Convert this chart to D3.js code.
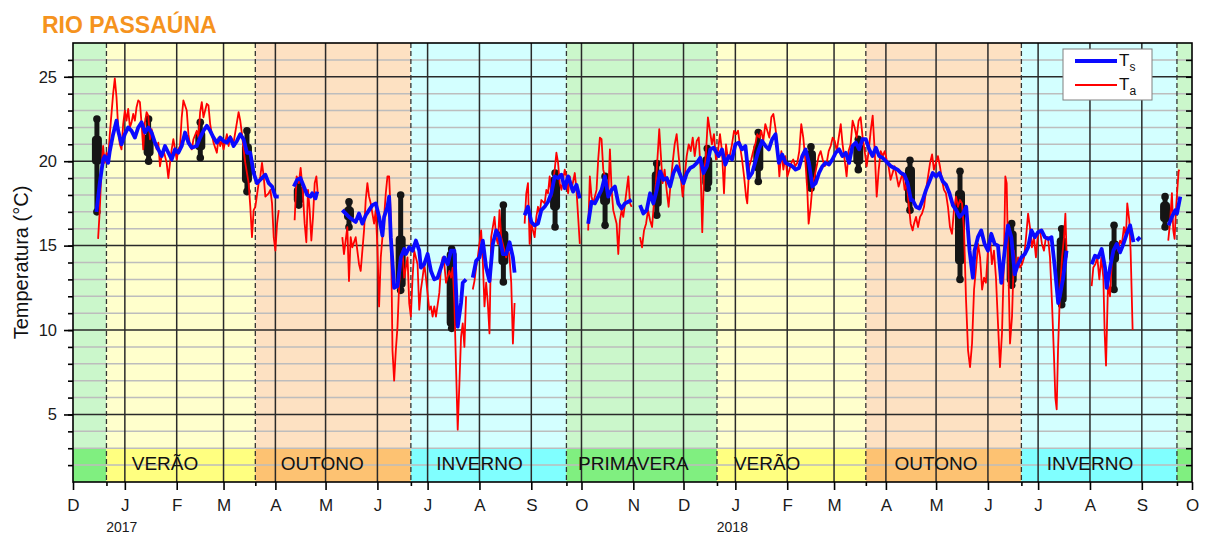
<!DOCTYPE html>
<html>
<head>
<meta charset="utf-8">
<script src="https://cdn.jsdelivr.net/npm/d3@7"></script>
<style>
  body { margin: 0; background: #fff; }
  svg { display: block; font-family: 'Liberation Sans', Arial, sans-serif; }
</style>
</head>
<body>
<div id="chart"></div>
<script>
// days counted from 1 Dec 2016
const startDay = '2016-12-01'
const endDay = '2018-10-01'

const seasons = [
  { name: '', kind: 'primavera', start: '2016-12-01', end: '2016-12-21', label: null },
  { name: 'VERÃO', kind: 'verao', start: '2016-12-21', end: '2017-03-20', label: '2017-01-25' },
  { name: 'OUTONO', kind: 'outono', start: '2017-03-20', end: '2017-06-21', label: '2017-04-29' },
  { name: 'INVERNO', kind: 'inverno', start: '2017-06-21', end: '2017-09-22', label: '2017-08-01' },
  { name: 'PRIMAVERA', kind: 'primavera', start: '2017-09-22', end: '2017-12-21', label: '2017-11-01' },
  { name: 'VERÃO', kind: 'verao', start: '2017-12-21', end: '2018-03-20', label: '2018-01-20' },
  { name: 'OUTONO', kind: 'outono', start: '2018-03-20', end: '2018-06-21', label: '2018-05-01' },
  { name: 'INVERNO', kind: 'inverno', start: '2018-06-21', end: '2018-09-22', label: '2018-08-01' },
  { name: '', kind: 'primavera', start: '2018-09-22', end: '2018-10-01', label: null }
]

const monthLetters = ['J', 'F', 'M', 'A', 'M', 'J', 'J', 'A', 'S', 'O', 'N', 'D']
const yearLabels = ['2017-01-01', '2018-01-01']
const yMajorTicks = [5, 10, 15, 20, 25]

// Ts - water temperature, [day, °C], null = gap
const tsData = [
  [14, 17.0], [16, 18.7], [18, 20.1], [19, 20.3], [21, 19.9], [22, 20.6], [24, 21.6], [26, 22.4], [27, 21.8], [29, 21.0],
  [31, 21.6], [33, 22.0], [35, 21.8], [37, 21.4], [39, 22.0], [41, 22.3], [43, 21.7], [45, 22.0], [47, 21.7], [49, 21.1],
  [51, 20.7], [53, 20.3], [55, 20.9], [57, 20.5], [59, 20.1], [61, 20.7], [63, 20.5], [65, 20.9], [67, 21.7], [69, 21.1],
  [71, 20.8], [74, 20.9], [76, 21.4], [78, 21.8], [80, 22.1], [82, 21.8], [84, 21.4], [86, 21.1], [88, 21.4], [90, 21.2],
  [92, 21.1], [94, 21.4], [96, 20.9], [98, 21.2], [100, 21.6], [102, 21.3], [104, 20.5], [106, 20.5], [108, 19.3], [110, 18.7],
  [112, 18.9], [115, 19.2], [117, 18.7], [119, 18.5], [121, 17.9], [123, 17.9],
  [124, null],
  [132, 18.5], [134, 18.9], [136, 19.0], [138, 18.5], [140, 18.0], [142, 17.9], [143, 18.1], [145, 17.8], [146, 18.2],
  [147, null],
  [161, 17.1], [165, 16.7], [169, 16.4], [171, 16.9], [173, 16.3], [175, 16.8], [177, 17.1], [179, 17.4], [181, 17.5], [183, 16.7],
  [185, 15.6], [186, 16.7], [188, 17.3], [189, 17.9], [190, 15.5], [192, 12.5], [194, 12.6], [196, 14.3], [198, 14.8], [199, 14.5],
  [201, 14.9], [203, 14.7], [205, 15.3], [207, 14.7], [208, 13.7], [210, 13.9], [212, 14.5], [214, 13.5], [216, 13.0], [218, 13.1],
  [220, 13.7], [222, 14.3], [224, 13.9], [226, 14.7], [228, 14.7], [229, 12.4], [230, 10.2], [232, 11.6], [233, 12.8], [234, 12.9], [235, 13.0],
  [236, null],
  [239, 13.1], [241, 14.1], [243, 14.3], [245, 15.3], [247, 13.7], [249, 12.9], [251, 15.1], [253, 15.9], [255, 15.5], [257, 14.5],
  [259, 14.5], [261, 15.2], [263, 14.3], [264, 13.4],
  [265, null],
  [270, 16.8], [272, 17.3], [274, 16.4], [276, 16.2], [278, 16.3], [280, 17.1], [282, 17.3], [284, 17.6], [286, 18.1], [288, 19.1],
  [290, 19.0], [292, 19.2], [294, 18.4], [296, 19.1], [297, 18.8], [299, 18.2], [301, 18.6], [303, 17.8],
  [304, null],
  [308, 16.3], [310, 17.6], [312, 17.5], [314, 17.9], [316, 18.3], [318, 19.1], [320, 17.9], [322, 18.3], [324, 18.5], [326, 17.5],
  [328, 17.2], [330, 17.5], [332, 17.6], [334, 17.7],
  [335, null],
  [339, 17.4], [341, 16.9], [343, 17.1], [345, 18.1], [347, 17.5], [349, 18.3], [351, 19.4], [353, 18.9], [355, 19.0], [357, 18.5],
  [359, 19.3], [361, 19.7], [363, 19.2], [365, 18.7], [367, 19.3], [369, 19.6], [371, 19.7], [373, 19.9], [375, 20.2], [377, 19.3],
  [379, 19.7], [381, 20.7], [383, 20.8], [386, 20.3], [388, 20.7], [390, 19.8], [392, 20.3], [394, 20.1], [396, 21.0], [398, 21.1],
  [400, 20.7], [402, 20.9], [404, 19.0], [406, 19.3], [408, 20.0], [410, 20.7], [412, 21.2], [414, 20.9], [416, 20.7], [418, 21.3],
  [420, 21.6], [422, 19.9], [424, 20.4], [426, 19.9], [428, 19.8], [430, 19.7], [432, 19.5], [434, 19.6], [436, 20.3], [438, 20.7],
  [440, 19.9], [442, 18.5], [444, 18.7], [446, 19.3], [448, 19.7], [450, 19.9], [452, 19.8], [454, 20.1], [456, 20.5], [458, 20.7],
  [460, 20.3], [462, 20.5], [464, 19.9], [466, 20.9], [468, 21.1], [470, 20.7], [472, 21.3], [474, 21.3], [476, 20.7], [478, 20.3],
  [480, 20.8], [482, 20.3], [484, 20.2], [485, 20.1], [487, 19.9], [489, 19.7], [491, 19.6], [493, 19.5], [495, 19.3], [497, 19.2],
  [499, 18.7], [501, 17.7], [502, 17.7], [504, 17.3], [506, 17.2], [508, 17.7], [510, 18.3], [512, 18.8], [514, 19.3], [516, 19.1],
  [518, 19.3], [520, 18.8], [522, 18.6], [524, 18.1], [526, 17.4], [528, 17.1], [530, 16.7], [532, 16.9], [534, 17.3], [536, 14.7],
  [538, 13.1], [539, 14.7], [541, 15.5], [543, 15.9], [545, 15.1], [547, 14.7], [549, 15.7], [551, 15.1], [553, 15.0], [555, 12.8],
  [557, 14.7], [559, 16.2], [561, 15.5], [563, 13.3], [565, 13.9], [567, 14.3], [569, 14.5], [571, 14.9], [573, 15.9], [575, 15.5],
  [577, 15.8], [579, 15.9], [581, 15.5], [583, 15.4], [585, 15.5], [587, 13.7], [589, 11.6], [590, 12.0], [592, 13.1], [594, 14.7],
  [595, null],
  [609, 13.9], [611, 14.4], [613, 14.3], [615, 14.8], [617, 13.7], [618, 12.5], [620, 13.7], [622, 14.7], [624, 15.1], [626, 14.6],
  [628, 15.1], [630, 15.7], [632, 16.2], [634, 15.2],
  [635, null],
  [636, 15.3], [638, 15.5],
  [639, null],
  [655, 16.2], [657, 16.7], [659, 17.1], [660, 16.9], [662, 17.9]
]

// Ta - air temperature, [day, °C], null = gap
const taData = [
  [15, 15.4], [16, 17.1], [17, 19.5], [18, 20.9], [19, 19.9], [20, 20.5], [21, 20.1], [22, 21.6], [23, 22.8], [24, 24.0],
  [25, 24.9], [26, 23.8], [27, 22.0], [28, 21.0], [29, 20.7], [30, 22.2], [31, 23.0], [32, 22.4], [33, 23.1], [34, 22.0],
  [35, 22.3], [36, 22.8], [37, 22.4], [38, 23.2], [39, 23.6], [40, 23.5], [41, 22.2], [42, 20.7], [43, 22.3], [44, 22.9],
  [45, 22.7], [46, 21.3], [47, 21.9], [48, 21.4], [50, 20.7], [51, 21.1], [52, 19.7], [53, 20.3], [54, 20.7], [56, 19.9],
  [57, 19.0], [58, 19.9], [59, 20.7], [60, 21.3], [62, 20.1], [63, 20.7], [64, 20.9], [65, 22.6], [66, 23.6], [68, 23.0],
  [69, 21.6], [70, 20.9], [71, 20.7], [72, 21.3], [74, 21.8], [75, 21.4], [76, 22.9], [77, 23.5], [78, 22.6], [80, 23.4],
  [81, 23.3], [82, 22.2], [83, 21.6], [84, 21.1], [86, 20.5], [87, 21.4], [88, 20.9], [89, 21.3], [90, 20.7], [92, 21.6],
  [93, 20.9], [94, 21.5], [95, 21.3], [96, 21.1], [98, 22.3], [99, 22.9], [100, 22.4], [101, 21.6], [102, 20.7], [103, 19.9],
  [105, 18.7], [106, 17.3], [107, 15.5], [108, 17.1], [109, 17.3], [111, 18.7], [112, 19.1], [113, 19.9], [114, 19.1], [115, 17.9],
  [117, 18.1], [118, 18.3], [119, 17.5], [120, 15.5], [121, 14.7], [122, 16.3], [123, 17.1],
  [124, null],
  [132.5, 16.5], [133.7, 19.1], [135, 18.7], [136.1, 19.6], [137.3, 18.3], [138.5, 16.3], [139.5, 15.2], [140.5, 18.3], [141.5, 17.1],
  [142.5, 15.3], [143.5, 16.7], [144.5, 18.7], [145.5, 19.1], [146.3, 18.1],
  [147, null],
  [161, 15.5], [162, 14.5], [164, 16.1], [165, 12.9], [166, 15.5], [167, 14.9], [169, 15.5], [171, 13.9], [172, 13.5], [174, 15.9],
  [175, 17.7], [176, 18.7], [177, 17.9], [178, 17.5], [180, 16.3], [181, 17.1], [182, 14.9], [183, 11.4], [184, 14.3], [186, 16.7],
  [187, 18.1], [188, 19.1], [189, 19.1], [190, 16.7], [191, 8.8], [192, 7.0], [193, 8.8], [194, 10.2], [195, 12.7], [196, 13.9],
  [197, 14.7], [198, 13.1], [200, 14.3], [201, 11.6], [202, 10.8], [203, 13.1], [204, 14.7], [206, 13.9], [207, 11.2], [208, 12.4],
  [209, 13.1], [210, 13.9], [211, 13.1], [213, 11.2], [214, 11.4], [215, 10.8], [216, 11.4], [217, 10.8], [219, 12.2], [220, 13.7],
  [221, 14.3], [222, 13.9], [223, 12.8], [225, 13.5], [226, 13.1], [227, 13.7], [228, 11.6], [229, 7.8], [230, 4.1], [231, 6.8],
  [232, 9.6], [233, 10.4], [234, 9.0], [235, 12.0],
  [236, null],
  [239, 12.4], [240, 12.9], [241, 13.7], [242, 14.3], [244, 15.9], [245, 14.1], [246, 11.4], [247, 12.8], [248, 11.6], [249, 9.8],
  [250, 15.5], [252, 16.7], [253, 15.5], [254, 15.1], [255, 17.1], [256, 15.5], [258, 14.7], [259, 14.3], [260, 14.9], [261, 14.3],
  [262, 12.8], [263, 9.2], [264, 11.6],
  [265, null],
  [270, 16.3], [271, 18.1], [272, 18.7], [273, 15.1], [274, 16.3], [276, 15.5], [277, 16.7], [278, 17.3], [279, 16.9], [280, 17.7],
  [282, 17.5], [283, 18.3], [284, 18.1], [285, 19.1], [286, 17.9], [288, 19.5], [289, 20.5], [290, 19.9], [291, 18.7], [292, 18.3],
  [294, 19.5], [295, 19.1], [296, 18.1], [297, 19.1], [298, 18.3], [300, 19.3], [301, 18.3], [302, 16.7], [303, 15.1],
  [304, null],
  [308, 15.9], [309, 19.1], [310, 17.9], [311, 17.5], [313, 18.3], [314, 20.1], [315, 21.4], [316, 21.3], [317, 19.5], [319, 18.7],
  [320, 17.9], [321, 20.7], [322, 18.3], [323, 17.1], [325, 16.3], [326, 14.5], [327, 16.5], [328, 17.1], [329, 16.7], [331, 18.3],
  [332, 19.1], [333, 17.5], [334, 17.3],
  [335, null],
  [339, 15.5], [340.2, 14.9], [341.4, 15.9], [342.6, 16.3], [343.8, 17.1], [345, 16.5], [346.2, 16.1], [347.3, 17.5], [348.5, 18.7], [349.7, 20.6],
  [350.5, 21.9], [351.3, 20.6], [352.5, 18.7], [353.7, 19.5], [354.9, 18.3], [356.1, 17.3], [357.3, 18.7], [358.5, 19.9], [359.7, 21.0], [360.9, 21.6],
  [362.1, 20.3], [363.3, 19.1], [364.5, 17.9], [365.7, 19.1], [366.9, 20.3], [368.1, 21.0], [369.3, 20.6], [370.5, 21.4], [371.7, 20.3], [372.9, 21.2],
  [374.1, 21.4], [375.2, 19.5], [376.2, 15.8], [377.2, 19.1], [378.4, 20.4], [379.6, 22.6], [380.8, 21.8], [382, 21.0], [383.2, 21.6], [384.4, 20.1],
  [385.6, 20.6], [386.8, 21.6], [388, 20.6], [389.2, 18.1], [390.4, 21.0], [391.6, 20.1], [392.8, 20.4], [394, 21.0], [395.2, 21.8], [396.4, 21.6],
  [397.6, 21.8], [398.8, 20.9], [400, 20.1], [401.2, 19.1], [402.4, 17.9], [403.1, 17.5], [404.3, 19.7], [405.5, 20.1], [406.7, 20.6], [407.9, 21.0],
  [409.1, 21.6], [410.3, 21.4], [411.5, 21.8], [412.7, 21.2], [413.9, 22.2], [415.1, 21.8], [416.3, 21.4], [417.5, 22.6], [418.7, 22.8], [419.9, 22.0],
  [421.1, 21.0], [422.3, 19.1], [423.5, 20.6], [424.7, 19.5], [425.9, 20.3], [427.1, 19.1], [428.3, 19.5], [429.5, 19.9], [430.6, 20.1], [431.8, 19.7],
  [433, 19.9], [434.2, 20.6], [435.4, 22.2], [436.6, 21.4], [437.8, 20.1], [439, 18.3], [439.8, 16.3], [441, 17.3], [442.2, 18.7], [443.4, 19.1],
  [444.6, 19.7], [445.8, 20.3], [447, 20.6], [448.2, 20.1], [449.4, 19.7], [450.6, 19.9], [451.8, 20.6], [453, 20.9], [454.2, 21.4], [455.4, 21.2],
  [456.6, 20.6], [457.8, 21.4], [459, 22.2], [460.1, 21.0], [461.3, 20.1], [462.5, 19.1], [463.7, 20.6], [464.9, 21.0], [466.1, 22.4], [467.3, 22.0],
  [468.5, 21.4], [469.7, 22.4], [470.9, 22.6], [472.1, 21.4], [473.3, 20.6], [474.5, 19.7], [475.7, 20.6], [476.9, 21.8], [478.1, 22.7], [479.3, 20.6],
  [480.5, 17.9], [481.7, 19.5], [482.9, 20.6], [484.1, 20.3], [485.3, 20.6], [486.4, 20.1], [487.6, 19.7], [488.8, 18.9], [490, 19.3], [491.2, 19.7],
  [492.4, 19.1], [493.6, 18.5], [494.8, 18.9], [496, 19.3], [497.2, 18.3], [498.4, 18.7], [499.6, 17.5], [500.8, 16.3], [502, 15.9], [502.8, 16.3],
  [504, 16.7], [505.2, 16.1], [506.4, 16.7], [507.6, 16.9], [508.8, 17.3], [510, 18.3], [511.2, 19.1], [512.4, 19.9], [513.6, 20.4], [514.7, 19.5],
  [515.9, 19.9], [517.1, 20.3], [518.3, 19.7], [519.5, 18.9], [520.7, 18.3], [521.9, 18.1], [523.1, 17.3], [524.3, 16.1], [525.5, 15.7], [526.7, 17.1],
  [527.9, 17.9], [529.1, 17.3], [530.3, 17.7], [531.5, 17.5], [532.7, 15.9], [533.9, 11.8], [535.1, 8.8], [536.3, 7.8], [537.5, 9.2], [538.7, 12.4],
  [539.9, 13.7], [541.1, 15.1], [542.3, 14.3], [543.5, 12.4], [544.7, 13.1], [545.8, 12.8], [547, 14.7], [548.2, 15.5], [549.4, 13.9], [550.6, 14.7],
  [551.8, 13.1], [553, 10.4], [554.2, 7.8], [555.4, 9.8], [556.6, 14.3], [557.4, 19.1], [558.2, 18.7], [559, 14.7], [560.2, 9.2], [561.4, 10.8],
  [562.6, 14.7], [563.8, 13.5], [565, 14.3], [566.2, 13.7], [567.4, 13.9], [568.6, 14.3], [569.8, 15.5], [571, 16.9], [572.1, 16.1], [573.3, 14.9],
  [574.5, 15.5], [575.7, 14.3], [576.9, 15.7], [578.1, 15.9], [579.3, 15.1], [580.5, 14.7], [581.7, 15.5], [582.9, 15.5], [584.1, 14.3], [585.3, 11.6],
  [586.5, 8.4], [587.3, 6.0], [588.1, 5.3], [588.9, 8.8], [590.1, 12.4], [591.3, 14.3], [592.5, 15.5], [593.3, 16.9], [594.1, 14.3],
  [595, null],
  [609, 12.6], [610, 13.7], [611.2, 13.9], [612.4, 14.3], [613.6, 13.0], [614.8, 14.3], [616, 13.1], [616.8, 9.8], [617.6, 7.9], [618.8, 12.8],
  [620, 12.0], [621.2, 14.3], [622.4, 14.7], [623.6, 15.1], [624.8, 14.7], [626, 15.3], [627.1, 15.1], [628.3, 16.1], [629.5, 15.5], [630.3, 17.5],
  [631.5, 16.5], [632.3, 14.7], [633.5, 10.0],
  [635, null],
  [654.8, 15.3], [655.8, 16.3], [657, 18.1], [657.8, 15.9], [658.6, 15.4], [659.4, 17.1], [660.2, 18.3], [661, 19.4], [661.4, 19.5]
]

// black bars: min, box low, box high, max
const bars = [
  { day: 14.3, lo: 17.0, q1: 19.8, q3: 21.5, hi: 22.5 },
  { day: 45.2, lo: 20.0, q1: 20.3, q3: 21.6, hi: 22.5 },
  { day: 76.1, lo: 20.2, q1: 20.65, q3: 21.8, hi: 22.3 },
  { day: 104, lo: 18.2, q1: 18.7, q3: 21.05, hi: 21.8 },
  { day: 135, lo: 17.4, q1: 17.5, q3: 18.5, hi: 18.7 },
  { day: 165, lo: 16.1, q1: 16.5, q3: 17.3, hi: 17.6 },
  { day: 195.9, lo: 12.35, q1: 12.5, q3: 15.6, hi: 18.0 },
  { day: 226.4, lo: 10.1, q1: 10.2, q3: 14.7, hi: 14.8 },
  { day: 257.3, lo: 12.85, q1: 13.85, q3: 15.9, hi: 17.4 },
  { day: 288.2, lo: 16.1, q1: 17.1, q3: 19.1, hi: 19.3 },
  { day: 318.1, lo: 16.2, q1: 17.4, q3: 18.3, hi: 19.1 },
  { day: 349, lo: 16.8, q1: 17.3, q3: 19.4, hi: 19.86 },
  { day: 379.2, lo: 18.4, q1: 18.5, q3: 20.3, hi: 20.75 },
  { day: 409.7, lo: 18.8, q1: 19.4, q3: 21.05, hi: 21.7 },
  { day: 441.2, lo: 18.4, q1: 18.5, q3: 20.65, hi: 20.85 },
  { day: 469.5, lo: 19.5, q1: 19.8, q3: 21.05, hi: 21.3 },
  { day: 500.4, lo: 17.1, q1: 17.5, q3: 19.7, hi: 20.06 },
  { day: 530.3, lo: 13.0, q1: 13.9, q3: 18.3, hi: 19.4 },
  { day: 561.2, lo: 12.65, q1: 12.75, q3: 15.9, hi: 16.3 },
  { day: 591.1, lo: 11.5, q1: 11.6, q3: 15.5, hi: 16.0 },
  { day: 622.4, lo: 12.4, q1: 14.0, q3: 15.3, hi: 16.2 },
  { day: 652.9, lo: 16.1, q1: 16.4, q3: 17.6, hi: 17.9 }
]

const lightFill = { primavera: '#cbf7cb', verao: '#ffffcc', outono: '#fde1c2', inverno: '#d3ffff' }
const darkFill = { primavera: '#80ef80', verao: '#ffff80', outono: '#fdc272', inverno: '#80ffff' }

const W = 1206
const H = 538
const plot = { left: 73, right: 1192, top: 43, bottom: 482 }

const parse = d3.utcParse('%Y-%m-%d')
const t0 = parse(startDay)
const dayToDate = d => new Date(t0.getTime() + d * 864e5)

const x = d3.scaleUtc().domain([t0, parse(endDay)]).range([plot.left, plot.right])
const y = d3.scaleLinear().domain([1, 27]).range([plot.bottom, plot.top])

const svg = d3
  .select('#chart')
  .append('svg')
  .attr('width', W)
  .attr('height', H)

// season backgrounds
svg
  .selectAll('.season-bg')
  .data(seasons)
  .enter()
  .append('rect')
  .attr('x', d => x(parse(d.start)))
  .attr('width', d => x(parse(d.end)) - x(parse(d.start)))
  .attr('y', plot.top)
  .attr('height', plot.bottom - plot.top)
  .attr('fill', d => lightFill[d.kind])

svg
  .selectAll('.season-band')
  .data(seasons)
  .enter()
  .append('rect')
  .attr('x', d => x(parse(d.start)))
  .attr('width', d => x(parse(d.end)) - x(parse(d.start)))
  .attr('y', y(3))
  .attr('height', y(1) - y(3))
  .attr('fill', d => darkFill[d.kind])

// horizontal grid
const minorVals = d3.range(2, 27).filter(v => v % 5 !== 0)
svg
  .selectAll('.minor-grid')
  .data(minorVals)
  .enter()
  .append('line')
  .attr('x1', plot.left)
  .attr('x2', plot.right)
  .attr('y1', d => y(d))
  .attr('y2', d => y(d))
  .attr('stroke', '#bdbdbd')
  .attr('stroke-width', 1.5)

svg
  .selectAll('.major-grid')
  .data(yMajorTicks)
  .enter()
  .append('line')
  .attr('x1', plot.left)
  .attr('x2', plot.right)
  .attr('y1', d => y(d))
  .attr('y2', d => y(d))
  .attr('stroke', '#2a2a2a')
  .attr('stroke-width', 1.5)

// month grid
const months = d3.utcMonth.range(d3.utcMonth.offset(t0, 1), parse(endDay))
svg
  .selectAll('.month-grid')
  .data(months)
  .enter()
  .append('line')
  .attr('x1', d => x(d))
  .attr('x2', d => x(d))
  .attr('y1', plot.top)
  .attr('y2', plot.bottom)
  .attr('stroke', '#2a2a2a')
  .attr('stroke-width', 1.5)

// season boundaries
const boundaries = seasons.slice(1).map(d => parse(d.start))
svg
  .selectAll('.season-line')
  .data(boundaries)
  .enter()
  .append('line')
  .attr('x1', d => x(d))
  .attr('x2', d => x(d))
  .attr('y1', plot.top)
  .attr('y2', plot.bottom)
  .attr('stroke', '#333')
  .attr('stroke-width', 1.3)
  .attr('stroke-dasharray', '5,3')

// season labels
svg
  .selectAll('.season-label')
  .data(seasons.filter(d => d.label))
  .enter()
  .append('text')
  .attr('x', d => x(parse(d.label)))
  .attr('y', plot.bottom - 12)
  .attr('text-anchor', 'middle')
  .attr('font-size', 19)
  .attr('fill', '#111')
  .text(d => d.name)

// bars
const barG = svg.append('g')
barG
  .selectAll('.whisker')
  .data(bars)
  .enter()
  .append('line')
  .attr('x1', d => x(dayToDate(d.day)))
  .attr('x2', d => x(dayToDate(d.day)))
  .attr('y1', d => y(d.hi))
  .attr('y2', d => y(d.lo))
  .attr('stroke', '#151515')
  .attr('stroke-width', 5)
  .attr('stroke-linecap', 'round')

barG
  .selectAll('.box')
  .data(bars)
  .enter()
  .append('rect')
  .attr('x', d => x(dayToDate(d.day)) - 5)
  .attr('width', 10)
  .attr('y', d => y(d.q3))
  .attr('height', d => y(d.q1) - y(d.q3))
  .attr('rx', 4)
  .attr('fill', '#151515')

const ends = bars.flatMap(d => [
  { day: d.day, v: d.lo },
  { day: d.day, v: d.hi }
])
barG
  .selectAll('.cap')
  .data(ends)
  .enter()
  .append('circle')
  .attr('cx', d => x(dayToDate(d.day)))
  .attr('cy', d => y(d.v))
  .attr('r', 3.8)
  .attr('fill', '#151515')

// lines
const line = d3
  .line()
  .defined(d => d[1] !== null)
  .x(d => x(dayToDate(d[0])))
  .y(d => y(d[1]))

svg
  .append('path')
  .datum(taData)
  .attr('d', line)
  .attr('fill', 'none')
  .attr('stroke', '#ff0000')
  .attr('stroke-width', 1.8)
  .attr('stroke-linejoin', 'round')

svg
  .append('path')
  .datum(tsData)
  .attr('d', line)
  .attr('fill', 'none')
  .attr('stroke', '#0a0aff')
  .attr('stroke-width', 3.8)
  .attr('stroke-linejoin', 'round')

// frame
svg
  .append('rect')
  .attr('x', plot.left)
  .attr('y', plot.top)
  .attr('width', plot.right - plot.left)
  .attr('height', plot.bottom - plot.top)
  .attr('fill', 'none')
  .attr('stroke', '#000')
  .attr('stroke-width', 1.6)

// axes
const allY = d3.range(2, 27)
const leftMinor = d3.axisLeft(y).tickValues(allY).tickSize(5).tickFormat('')
const leftMajor = d3.axisLeft(y).tickValues(yMajorTicks).tickSize(9).tickPadding(7)
const rightTicks = d3.axisLeft(y).tickValues(allY).tickSize(6).tickFormat('')

svg.append('g').attr('class', 'axis').attr('transform', `translate(${plot.left},0)`).call(leftMinor)
svg.append('g').attr('class', 'axis y-labels').attr('transform', `translate(${plot.left},0)`).call(leftMajor)
svg.append('g').attr('class', 'axis').attr('transform', `translate(${plot.right},0)`).call(rightTicks)

const xAxis = d3
  .axisBottom(x)
  .tickValues(d3.utcMonth.range(t0, d3.utcDay.offset(parse(endDay), 1)))
  .tickSize(8)
  .tickPadding(9)
  .tickFormat(d => monthLetters[d.getUTCMonth()])
svg.append('g').attr('class', 'axis x-labels').attr('transform', `translate(0,${plot.bottom})`).call(xAxis)

const xMinor = d3.axisBottom(x).tickValues(boundaries).tickSize(4).tickFormat('')
svg.append('g').attr('class', 'axis').attr('transform', `translate(0,${plot.bottom})`).call(xMinor)

svg.selectAll('.axis .domain').remove()
svg.selectAll('.axis line').attr('stroke', '#000').attr('stroke-width', 1.6)
svg.selectAll('.axis text').attr('font-family', "'Liberation Sans', Arial, sans-serif").attr('fill', '#1a1a1a')
svg.selectAll('.x-labels text').attr('font-size', 17)
svg.selectAll('.y-labels text').attr('font-size', 16.5)

// year labels
svg
  .selectAll('.year')
  .data(yearLabels)
  .enter()
  .append('text')
  .attr('x', d => x(parse(d)) - 3)
  .attr('y', 532)
  .attr('text-anchor', 'middle')
  .attr('font-size', 14)
  .attr('fill', '#1a1a1a')
  .text(d => d.slice(0, 4))

// y title
svg
  .append('text')
  .attr('transform', `translate(28,${(plot.top + plot.bottom) / 2}) rotate(-90)`)
  .attr('text-anchor', 'middle')
  .attr('font-size', 20)
  .attr('fill', '#111')
  .text('Temperatura (°C)')

// title
svg
  .append('text')
  .attr('x', 42)
  .attr('y', 33)
  .attr('font-size', 23)
  .attr('font-weight', 'bold')
  .attr('fill', '#f5931e')
  .text('RIO PASSAÚNA')

// legend
const legend = svg.append('g').attr('transform', 'translate(1063,49)')
legend
  .append('rect')
  .attr('width', 89)
  .attr('height', 51)
  .attr('fill', '#fff')
  .attr('stroke', '#808080')
  .attr('stroke-width', 1)

const legendItems = [
  { sym: 'T', sub: 's', color: '#0a0aff', width: 3.8 },
  { sym: 'T', sub: 'a', color: '#ff0000', width: 1.8 }
]
const item = legend
  .selectAll('.item')
  .data(legendItems)
  .enter()
  .append('g')
  .attr('transform', (d, i) => `translate(0,${12 + i * 24})`)

item
  .append('line')
  .attr('x1', 12)
  .attr('x2', 54)
  .attr('stroke', d => d.color)
  .attr('stroke-width', d => d.width)

const label = item
  .append('text')
  .attr('x', 56)
  .attr('y', 5)
  .attr('font-size', 17)
  .attr('fill', '#111')
label.append('tspan').text(d => d.sym)
label
  .append('tspan')
  .attr('dy', 5)
  .attr('font-size', 12)
  .text(d => d.sub)
</script>
</body>
</html>
